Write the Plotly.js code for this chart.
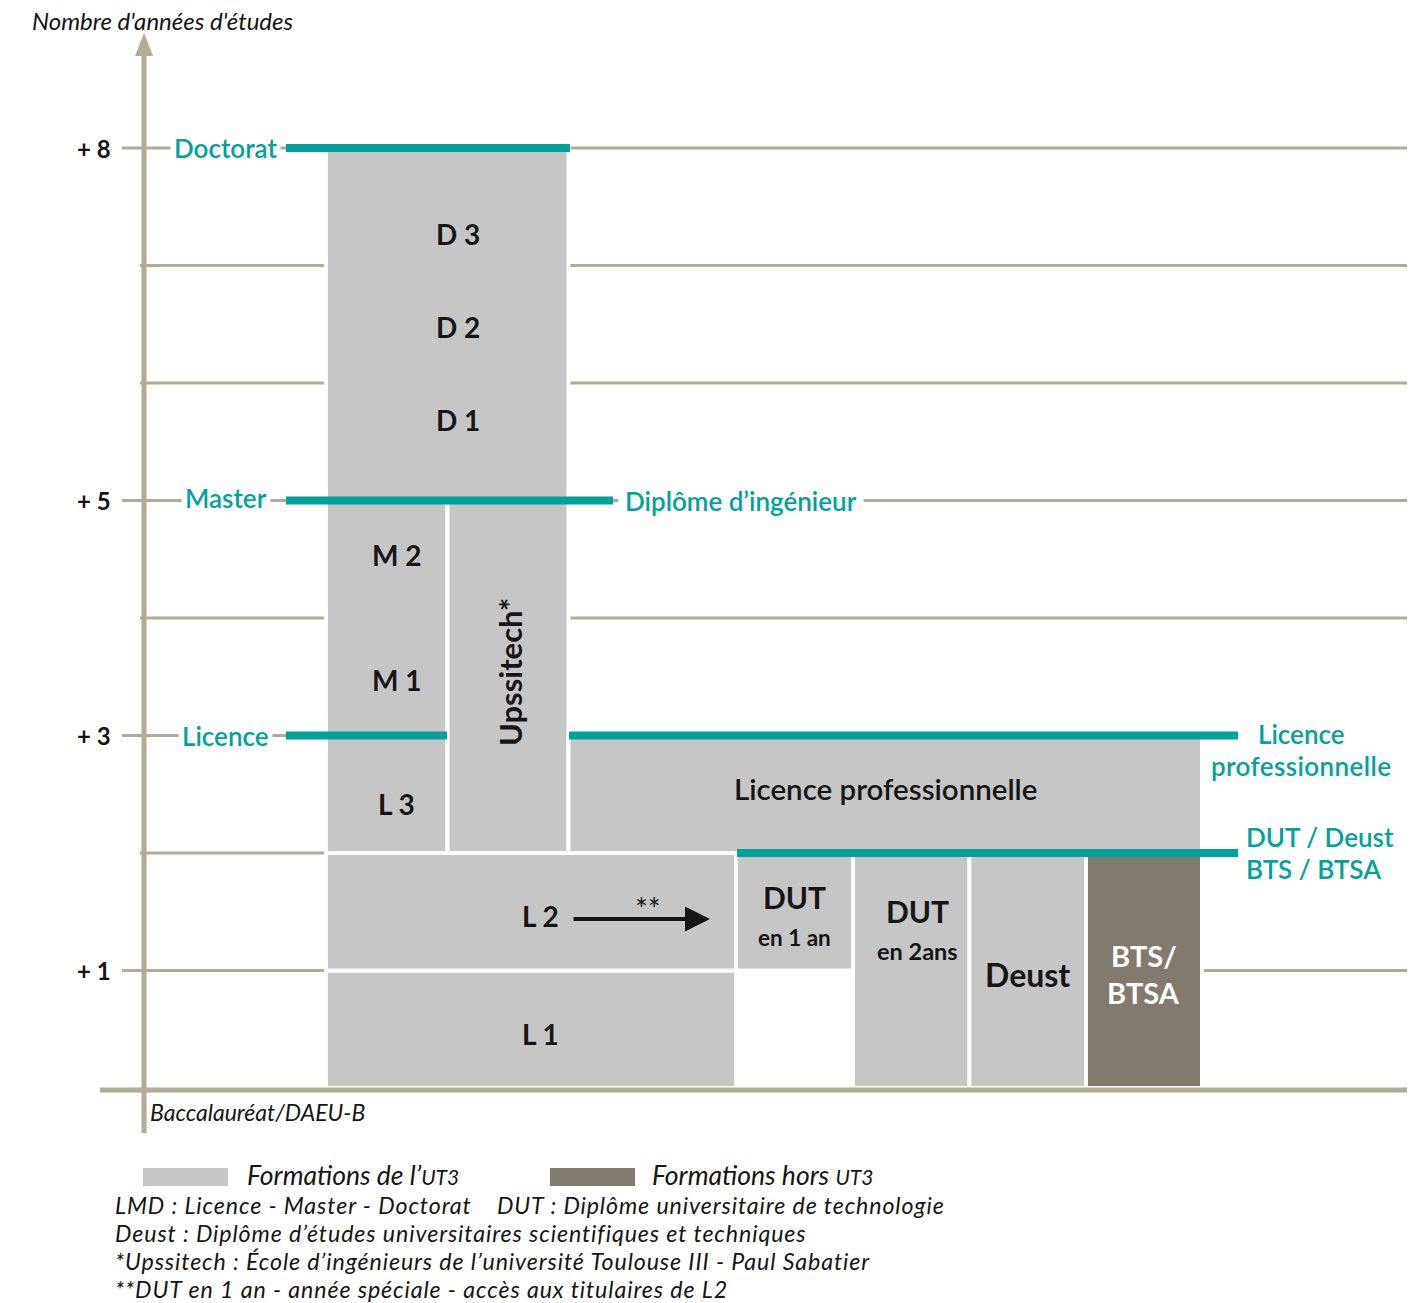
<!DOCTYPE html>
<html><head><meta charset="utf-8">
<script src="https://cdn.plot.ly/plotly-3.0.1.min.js"></script>
<style>html,body{margin:0;padding:0;background:#fff;}</style>
</head><body><div id="chart" style="width:1424px;height:1303px;"></div>
<script>
// ---------- DATA ----------
// Blocks of study: column extents (column units) and years after the bac
const blockNames = ['L 1', 'L 2', 'L 3 / M 1 / M 2', 'Upssitech*', 'D 1 / D 2 / D 3',
  'Licence professionnelle', 'DUT en 1 an', 'DUT en 2 ans', 'Deust', 'BTS/BTSA'];
const blockX0 = [1.48, 1.48, 1.48, 2.524, 1.48, 3.562, 5.0, 6.004, 7.004, 8.004];
const blockX1 = [5.0, 5.0, 2.524, 3.562, 3.562, 9.0, 6.004, 7.004, 8.004, 9.0];
const blockYearStart = [0, 1, 2, 2, 5, 2, 1, 0, 0, 0];
const blockYearEnd = [1, 2, 5, 5, 8, 3, 2, 2, 2, 2];
const blockInUT3 = [true, true, true, true, true, true, true, true, true, false];

// Diplomas (teal lines): level reached in years, and horizontal extent
const diplomaNames = ['Doctorat', 'Master / Diplôme d’ingénieur', 'Licence', 'Licence professionnelle', 'DUT / Deust / BTS / BTSA'];
const diplomaLevel = [8, 5, 3, 3, 2];
const diplomaX0 = [1.137, 1.137, 1.137, 3.567, 5.009];
const diplomaX1 = [3.575, 3.944, 2.519, 9.309, 9.309];

// Year levels and tick labels
const yearLevels = [1, 2, 3, 4, 5, 6, 7, 8];
const tickYears = [1, 3, 5, 8];
const tickLabels = ['+ 1', '+ 3', '+ 5', '+ 8'];

// ---------- STYLE ----------
const TEAL = '#00a29a', TAN = '#b2ab95', GRAY = '#c6c6c6', BROWN = '#837a6f', INK = '#151515';
const FONT = 'Lato, "Open Sans", sans-serif';
const XR = [-153.5 / 116.5, (1424 - 153.5) / 116.5];
const YR = [(1088 - 1303) / 117.5, 1088 / 117.5];
const AXIS_X = -0.0815;
const GRID_RIGHT = {1: 10.76, 2: 8.5, 3: 1.5, 4: 10.76, 5: 10.76, 6: 10.76, 7: 10.76, 8: 10.76};

// ---------- TRACES ----------
const traces = [];
function blockTrace(inUT3, color, name) {
  const idx = blockNames.map((n, i) => i).filter(i => blockInUT3[i] === inUT3);
  return {
    type: 'bar', name: name, showlegend: false, hoverinfo: 'skip',
    x: idx.map(i => (blockX0[i] + blockX1[i]) / 2),
    width: idx.map(i => blockX1[i] - blockX0[i]),
    base: idx.map(i => blockYearStart[i]),
    y: idx.map(i => blockYearEnd[i] - blockYearStart[i]),
    marker: {color: color, line: {color: '#ffffff', width: 4}}
  };
}
traces.push(blockTrace(true, GRAY, 'Formations de l’UT3'));
traces.push(blockTrace(false, BROWN, 'Formations hors UT3'));

const tx = [], ty = [];
diplomaNames.forEach((n, i) => { tx.push(diplomaX0[i], diplomaX1[i], null); ty.push(diplomaLevel[i], diplomaLevel[i], null); });
traces.push({type: 'scatter', mode: 'lines', x: tx, y: ty, hoverinfo: 'skip', showlegend: false,
  line: {color: TEAL, width: 8}});

// ---------- SHAPES ----------
const shapes = [];
yearLevels.forEach(lv => {
  const left = tickYears.includes(lv) ? -0.27 : -0.116;
  shapes.push({type: 'line', layer: 'below', xref: 'x', yref: 'y', x0: left, x1: GRID_RIGHT[lv], y0: lv, y1: lv,
    line: {color: TAN, width: 3}});
});
// vertical axis + arrow head
shapes.push({type: 'line', layer: 'above', xref: 'x', yref: 'y', x0: AXIS_X, x1: AXIS_X, y0: -0.383, y1: 8.80,
  line: {color: TAN, width: 5}});
shapes.push({type: 'path', layer: 'above', xref: 'x', yref: 'y', xsizemode: 'pixel', ysizemode: 'pixel',
  xanchor: AXIS_X, yanchor: 8.783, path: 'M -9,0 L 9,0 L 0,23 Z', fillcolor: TAN, line: {width: 0}});
// baseline
shapes.push({type: 'line', layer: 'above', xref: 'x', yref: 'y', x0: -0.459, x1: 10.76, y0: -0.017, y1: -0.017,
  line: {color: TAN, width: 5}});
// legend swatches
shapes.push({type: 'rect', xref: 'x', yref: 'y', x0: -0.09, x1: 0.639, y0: -0.834, y1: -0.681, fillcolor: GRAY, line: {width: 0}});
shapes.push({type: 'rect', xref: 'x', yref: 'y', x0: 3.403, x1: 4.133, y0: -0.834, y1: -0.681, fillcolor: BROWN, line: {width: 0}});

// ---------- ANNOTATIONS ----------
const ann = [];
function A(text, x, y, o) {
  ann.push(Object.assign({text: text, x: x, y: y, xref: 'x', yref: 'y', showarrow: false,
    xanchor: 'center', yanchor: 'middle', font: {family: FONT, size: 24, color: INK}}, o || {}));
}
const italic = (s) => ({family: FONT, size: s, color: INK, style: 'italic'});
// titles
A('Nombre d\'années d\'études', -1.06, 9.089, {xanchor: 'left', font: italic(24)});
A('Baccalauréat/DAEU-B', -0.05, -0.204, {xanchor: 'left', font: italic(23)});
// tick labels
tickYears.forEach((y, i) => A(tickLabels[i], -0.347, y, {xanchor: 'right', font: {family: FONT, size: 24, color: INK, weight: 'bold'}}));
// diploma labels
const tealF = (s) => ({family: FONT, size: s, color: TEAL, weight: 600});
A('Doctorat', 0.622, 8, {font: tealF(26), bgcolor: '#ffffff', borderpad: 3});
A('Master', 0.622, 5.02, {font: tealF(26), bgcolor: '#ffffff', borderpad: 3});
A('Licence', 0.622, 3, {font: tealF(26), bgcolor: '#ffffff', borderpad: 3});
A('Diplôme d’ingénieur', 3.987, 5, {xanchor: 'left', font: tealF(26), bgcolor: '#ffffff', borderpad: 6});
A('Licence', 9.85, 3.013, {font: tealF(26)});
A('<span style="letter-spacing:0.4px">professionnelle</span>', 9.85, 2.74, {font: tealF(26)});
A('DUT / Deust', 9.36, 2.136, {xanchor: 'left', font: tealF(26)});
A('BTS / BTSA', 9.36, 1.864, {xanchor: 'left', font: tealF(26)});
// block labels
const bold = (s, c) => ({family: FONT, size: s, color: c || INK, weight: 'bold'});
A('D 3', 2.614, 7.268, {font: bold(28)});
A('D 2', 2.614, 6.477, {font: bold(28)});
A('D 1', 2.614, 5.685, {font: bold(28)});
A('M 2', 2.09, 4.536, {font: bold(28)});
A('M 1', 2.09, 3.472, {font: bold(28)});
A('L 3', 2.09, 2.417, {font: bold(28)});
A('Upssitech*', 3.06, 3.54, {textangle: -90, font: bold(31)});
A('Licence professionnelle', 6.279, 2.553, {font: {family: FONT, size: 29.5, color: INK, weight: 600}});
A('L 2', 3.326, 1.464, {font: bold(28)});
A('L 1', 3.326, 0.46, {font: bold(28)});
A('DUT', 5.506, 1.626, {font: bold(30)});
A('en 1 an', 5.506, 1.285, {font: bold(22.5)});
A('DUT', 6.554, 1.506, {font: bold(30)});
A('en 2ans', 6.554, 1.166, {font: bold(23.5)});
A('Deust', 7.506, 0.97, {font: bold(32)});
A('BTS/', 8.502, 1.126, {font: bold(29, '#ffffff')});
A('BTSA', 8.502, 0.817, {font: bold(29, '#ffffff')});
// L2 -> DUT arrow
ann.push({text: '', x: 4.777, y: 1.438, ax: 3.593, ay: 1.438, xref: 'x', yref: 'y', axref: 'x', ayref: 'y',
  showarrow: true, arrowhead: 2, arrowsize: 1.25, arrowwidth: 4, arrowcolor: INK});
A('**', 4.245, 1.53, {font: {family: FONT, size: 30, color: INK}});
// legend texts
A('Formations de l’<span style="font-size:21px">UT3</span>', 0.785, -0.7404, {xanchor: 'left', font: italic(26.5)});
A('Formations hors <span style="font-size:21px">UT3</span>', 4.262, -0.7404, {xanchor: 'left', font: italic(26.5)});
// footnotes
const notes = ['LMD : Licence - Master - Doctorat &nbsp;&nbsp; DUT : Diplôme universitaire de technologie',
  'Deust : Diplôme d’études universitaires scientifiques et techniques',
  '*Upssitech : École d’ingénieurs de l’université Toulouse III - Paul Sabatier',
  '**DUT en 1 an - année spéciale - accès aux titulaires de L2'];
const noteY = [-0.9957, -1.234, -1.4723, -1.7106];
notes.forEach((t, i) => A('<span style="letter-spacing:0.9px">' + t + '</span>', -0.347, noteY[i],
  {xanchor: 'left', font: italic(23.2)}));

const layout = {
  width: 1424, height: 1303, margin: {l: 0, r: 0, t: 0, b: 0, pad: 0},
  paper_bgcolor: '#ffffff', plot_bgcolor: '#ffffff', barmode: 'overlay', showlegend: false,
  xaxis: {range: XR, visible: false, fixedrange: true},
  yaxis: {range: YR, visible: false, fixedrange: true},
  shapes: shapes, annotations: ann
};
Plotly.newPlot('chart', traces, layout, {staticPlot: true, displayModeBar: false});
</script></body></html>
